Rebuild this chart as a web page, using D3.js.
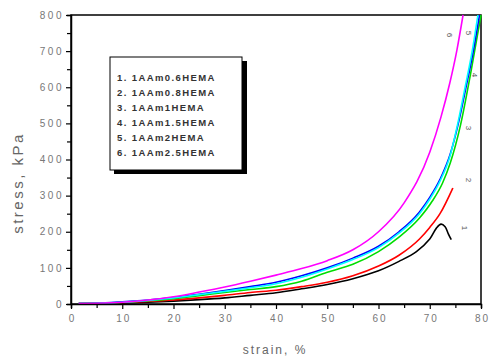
<!DOCTYPE html>
<html><head><meta charset="utf-8">
<script src="https://cdn.jsdelivr.net/npm/d3@7"></script>
<style>body{margin:0;background:#fff}svg{display:block}</style>
</head><body>
<svg id="c" width="489" height="361"></svg>
<script>
const seriesNames = ["1. 1AAm0.6HEMA","2. 1AAm0.8HEMA","3. 1AAm1HEMA","4. 1AAm1.5HEMA","5. 1AAm2HEMA","6. 1AAm2.5HEMA"];
const seriesColors = ["#000000","#ff0000","#00dd00","#0000ff","#00ffff","#ff00ff"];
const curveLabels = ["1","2","3","4","5","6"];
const xTicks = [0,10,20,30,40,50,60,70,80];
const yTicks = [0,100,200,300,400,500,600,700,800];

const strain1 = [1.5,5,10,15,20,25,30,35,40,45,50,55,60,64,67.4,70,71.3,72.2,73,73.6,74.2];
const stress1 = [1,2,3,5,8,12,17,24,31,42,54,70,92,118,145,180,210,221,214,195,178];
const strain2 = [1.5,5,10,15,20,25,30,35,40,45,50,55,60,64,68,70,72,74.5];
const stress2 = [1,2,4,7,11,17,24,32,38,48,60,78,105,135,180,212,250,321];
const strain3 = [1.5,5,10,15,20,25,30,35,40,45,50,55,60,64,68,70.5,72.5,74,76,78,80];
const stress3 = [1,2,5,9,15,23,32,40,48,63,88,110,145,185,238,285,335,390,495,640,800];
const strain4 = [1.5,5,10,15,20,25,30,35,40,45,50,55,60,64,68,70,72,74,75.5,77,78.5,79.7];
const stress4 = [1,2,6,11,18,27,37,48,60,78,100,127,160,200,255,295,345,415,495,595,700,800];
const strain5 = [1.5,5,10,15,20,25,30,35,40,45,50,55,60,64,68,70,72,74,75.4,76.9,78.4,79.4];
const stress5 = [1,2,5,10,17,26,35,45,56,74,97,123,156,196,250,290,340,412,495,600,710,800];
const strain6 = [1.5,5,10,15,20,25,30,35,40,45,50,55,60,65,70,72.2,73.9,75.3,76.5];
const stress6 = [1,2,5,11,20,33,47,63,80,98,120,150,200,280,420,518,611,703,800];

const strains = [strain1,strain2,strain3,strain4,strain5,strain6];
const stresses = [stress1,stress2,stress3,stress4,stress5,stress6];

const svg = d3.select("#c");
const x = d3.scaleLinear().domain([0,80]).range([71,481]);
const y = d3.scaleLinear().domain([0,800]).range([304,15]);

// frame
svg.append("rect").attr("x",71).attr("y",15).attr("width",410).attr("height",289)
  .attr("fill","none").attr("stroke","#000").attr("stroke-width",1.5);

// curves
const line = d3.line().x(d=>x(d[0])).y(d=>y(d[1])).curve(d3.curveMonotoneX);
const lineCR = d3.line().x(d=>x(d[0])).y(d=>y(d[1])).curve(d3.curveCatmullRom);
strains.forEach((s,i)=>{
  const pts = s.map((v,j)=>[v,stresses[i][j]]);
  svg.append("path").attr("d", i===0 ? lineCR(pts) : line(pts))
    .attr("fill","none").attr("stroke",seriesColors[i]).attr("stroke-width",1.6);
});

// axes
const xAxis = d3.axisBottom(x).tickValues(d3.range(0,81,5)).tickSize(4).tickFormat(d=> d%10===0 ? d : "");
const gx = svg.append("g").attr("transform","translate(0,304)").call(xAxis);
gx.select(".domain").attr("stroke","#000").attr("stroke-width",1.5);
gx.selectAll(".tick line").attr("stroke","#000").attr("stroke-width",1.2)
  .attr("y2",d=> d%10===0 ? 5 : 4);
gx.selectAll(".tick text").attr("font-family","Arial, Liberation Sans, sans-serif").attr("font-size",10)
  .attr("fill","#777").attr("letter-spacing","2px").attr("dy","1.1em").attr("dx","1px");

const yAxis = d3.axisLeft(y).tickValues(d3.range(0,801,50)).tickSize(4).tickFormat(d=> d%100===0 ? d : "");
const gy = svg.append("g").attr("transform","translate(71,0)").call(yAxis);
gy.select(".domain").attr("stroke","#000").attr("stroke-width",1.5);
gy.selectAll(".tick line").attr("stroke","#000").attr("stroke-width",1.2)
  .attr("x2",d=> d%100===0 ? -5 : -4);
gy.selectAll(".tick text").attr("font-family","Arial, Liberation Sans, sans-serif").attr("font-size",10)
  .attr("fill","#777").attr("letter-spacing","2.5px").attr("x",-7);

// axis titles
svg.append("text").attr("x",275).attr("y",354).attr("text-anchor","middle")
  .attr("font-family","Arial, Liberation Sans, sans-serif").attr("font-size",12).attr("letter-spacing","2px")
  .attr("fill","#666").text("strain, %");
svg.append("text").attr("transform","translate(23,183) rotate(-90)").attr("text-anchor","middle")
  .attr("font-family","Arial, Liberation Sans, sans-serif").attr("font-size",15).attr("letter-spacing","2.5px")
  .attr("fill","#666").text("stress, kPa");

// legend
svg.append("rect").attr("x",114).attr("y",61).attr("width",133).attr("height",113).attr("fill","#000");
svg.append("rect").attr("x",110).attr("y",57).attr("width",132).attr("height",113)
  .attr("fill","#fff").attr("stroke","#000").attr("stroke-width",1);
seriesNames.forEach((n,i)=>{
  svg.append("text").attr("x",117).attr("y",81+15*i)
    .attr("font-family","Arial, Liberation Sans, sans-serif").attr("font-size",9.5).attr("font-weight","bold")
    .attr("letter-spacing","1.4px").attr("fill","#333").text(n);
});

// curve number labels
const labelPos = [[465,228],[469,180],[469,128],[475,75],[469,33],[450,35]];
curveLabels.forEach((t,i)=>{
  svg.append("text").attr("transform",`translate(${labelPos[i][0]},${labelPos[i][1]}) rotate(90)`)
    .attr("text-anchor","middle").attr("dy","0.35em")
    .attr("font-family","Arial, Liberation Sans, sans-serif").attr("font-size",8)
    .attr("fill","#555").text(t);
});
</script>
</body></html>
